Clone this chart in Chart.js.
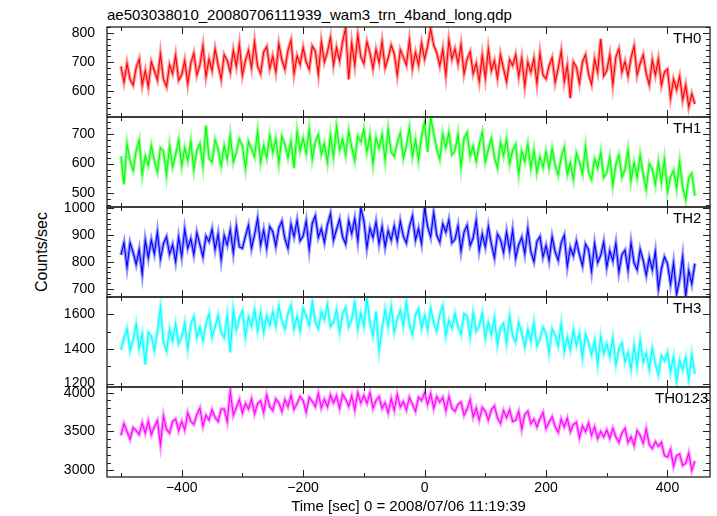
<!DOCTYPE html>
<html>
<head>
<meta charset="utf-8">
<title>ae503038010 wam3 trn 4band long</title>
<script src="https://cdn.jsdelivr.net/npm/chart.js@4.4.0/dist/chart.umd.min.js"></script>
<style>
  html, body { margin: 0; padding: 0; background: #fff; font-family: "Liberation Sans", Arial, sans-serif; }
  #wrap { position: relative; width: 717px; height: 516px; overflow: hidden; }
  #wrap canvas { position: absolute; left: 0; top: 0; }
  #title { position: absolute; left: 107px; top: 7px; font-size: 15px; line-height: 15px; white-space: nowrap; }
  #ytitle { position: absolute; left: 42px; top: 252px; font-size: 16px; white-space: nowrap;
            transform: translate(-50%, -50%) rotate(-90deg); }
</style>
</head>
<body>
<div id="wrap">
  <div id="title">ae503038010_20080706111939_wam3_trn_4band_long.qdp</div>
  <div id="ytitle">Counts/sec</div>
  <canvas id="p0" width="717" height="516"></canvas>
  <canvas id="p1" width="717" height="516"></canvas>
  <canvas id="p2" width="717" height="516"></canvas>
  <canvas id="p3" width="717" height="516"></canvas>
  <canvas id="p4" width="717" height="516"></canvas>
</div>
<script>
// 10 s bins (sec from 2008/07/06 11:19:39); each bin holds two rate samples, 5 s apart
const times = [
  -500,-490,-480,-470,-460,-450,-440,-430,-420,-410,
  -400,-390,-380,-370,-360,-350,-340,-330,-320,-310,
  -300,-290,-280,-270,-260,-250,-240,-230,-220,-210,
  -200,-190,-180,-170,-160,-150,-140,-130,-120,-110,
  -100,-90,-80,-70,-60,-50,-40,-30,-20,-10,
  0,10,20,30,40,50,60,70,80,90,
  100,110,120,130,140,150,160,170,180,190,
  200,210,220,230,240,250,260,270,280,290,
  300,310,320,330,340,350,360,370,380,390,
  400,410,420,430,440
];

// counts/sec, two samples per bin
const th0Rate = [
  685,630,695,640,620,680,710,620,670,615, 700,670,638,728,640,615,690,660,722,637,
  655,705,625,695,730,655,690,755,650,710, 670,745,690,640,725,705,665,740,685,760,
  655,705,740,680,770,685,660,735,753,678, 720,665,762,707,675,740,775,660,722,692,
  750,700,675,755,738,658,770,700,735,785, 690,750,705,770,818,640,765,690,793,718,
  695,770,732,677,743,698,770,680,713,758, 730,655,742,717,690,775,678,733,690,765,
  710,755,815,758,732,687,745,655,775,710, 745,695,760,660,710,735,660,695,633,723,
  645,745,670,705,645,725,677,632,708,688, 725,650,713,618,700,665,712,627,730,655,
  642,687,715,630,678,738,633,688,575,700, 682,627,700,725,658,623,710,665,780,652,
  670,725,623,718,745,665,702,652,715,755, 655,695,725,660,622,707,655,710,620,665,
  675,575,640,605,650,570,620,545,590,555
];
const th1Rate = [
  625,530,665,610,577,642,678,563,625,595, 660,610,573,653,642,562,660,590,630,680,
  593,653,610,675,580,645,667,592,728,618, 605,680,648,593,660,615,695,605,637,682,
  660,585,675,650,623,708,605,660,620,695, 638,683,602,692,665,620,675,585,708,643,
  685,635,715,615,673,698,632,667,605,695, 625,725,647,682,630,710,655,610,693,673,
  715,640,695,600,687,652,698,613,715,640, 625,670,703,618,660,720,625,680,612,692,
  740,640,757,700,650,615,700,655,705,630, 643,698,590,685,705,625,658,608,665,705,
  607,647,685,620,586,671,627,682,600,645, 665,565,642,607,665,585,645,570,622,587,
  640,585,650,595,562,622,655,565,603,548, 635,605,566,656,572,547,615,585,638,553,
  570,620,528,598,629,554,580,645,542,602, 553,628,564,514,600,580,530,605,538,613,
  505,555,577,517,605,520,478,553,567,492
];
const th2Rate = [
  825,870,780,870,835,790,845,755,880,815, 880,830,910,810,867,892,828,863,800,890,
  820,920,850,885,827,907,863,818,895,875, 920,845,903,808,897,862,918,833,930,855,
  850,895,935,850,900,960,863,918,850,930, 912,857,925,950,885,850,938,893,953,878,
  895,950,847,942,970,890,922,872,938,978, 880,920,957,892,866,951,905,960,878,1000,
  952,852,925,890,947,867,930,855,915,880, 932,877,950,895,870,930,970,880,923,868,
  1000,930,892,982,898,873,940,910,955,870, 883,933,840,910,935,860,888,953,842,902,
  855,930,865,815,902,882,835,910,842,917, 813,863,890,830,922,837,800,875,893,818,
  860,805,892,837,805,870,898,783,852,822, 876,826,785,865,845,765,867,797,823,873,
  780,840,803,868,762,827,843,768,870,795, 770,845,805,750,815,770,837,700,773,818,
  792,717,795,680,733,818,672,767,718,793
];
const th3Rate = [
  1395,1463,1518,1390,1453,1543,1402,1485,1310,1495, 1475,1392,1503,1640,1440,1387,1513,1445,1543,1430,
  1467,1550,1402,1545,1588,1467,1525,1450,1545,1605, 1467,1528,1593,1495,1465,1593,1380,1625,1510,1578,
  1620,1470,1585,1532,1628,1507,1610,1497,1590,1537, 1615,1532,1646,1563,1515,1605,1653,1517,1588,1505,
  1635,1590,1535,1670,1555,1517,1616,1570,1657,1529, 1552,1628,1497,1603,1640,1527,1568,1666,1515,1605,
  1532,1695,1550,1475,1617,1390,1515,1628,1530,1643, 1497,1573,1623,1532,1670,1542,1485,1598,1633,1520,
  1593,1510,1635,1552,1502,1600,1650,1477,1565,1520, 1605,1530,1482,1603,1590,1470,1608,1502,1533,1608,
  1462,1553,1482,1580,1425,1523,1548,1435,1588,1475, 1440,1553,1495,1412,1513,1445,1553,1417,1457,1525,
  1490,1377,1515,1478,1417,1545,1385,1468,1395,1508, 1420,1488,1350,1485,1435,1367,1448,1312,1470,1372,
  1430,1355,1463,1312,1398,1435,1325,1378,1282,1418, 1300,1450,1322,1375,1282,1403,1317,1250,1360,1330,
  1380,1267,1353,1210,1333,1280,1350,1222,1368,1255
];
const th0123Rate = [
  3450,3600,3500,3400,3550,3510,3460,3610,3480,3630, 3460,3560,3640,3330,3700,3530,3480,3630,3660,3510,
  3630,3520,3740,3630,3590,3720,3800,3570,3710,3650, 3780,3680,3630,3790,3790,3630,4020,3710,3810,3910,
  3740,3860,3790,3920,3730,3860,3895,3745,3970,3820, 3770,3920,3870,3760,3910,3820,3965,3785,3860,3950,
  3900,3750,3940,3890,3820,3990,3805,3915,3820,3970, 3870,3960,3800,3980,3915,3825,3960,3780,4000,3870,
  3965,3865,4000,3800,3900,3950,3800,3870,3740,3920, 3775,3975,3815,3885,3780,3940,3850,3760,3940,3900,
  4000,3850,3990,3800,3950,3880,3940,3770,3950,3800, 3760,3850,3880,3710,3790,3910,3690,3800,3650,3810,
  3760,3650,3780,3830,3675,3605,3770,3680,3780,3630, 3645,3755,3530,3720,3760,3600,3660,3560,3665,3745,
  3540,3620,3690,3560,3490,3660,3560,3670,3500,3590, 3620,3420,3570,3500,3610,3450,3560,3410,3500,3430,
  3520,3410,3540,3430,3360,3480,3540,3360,3430,3320, 3510,3450,3350,3530,3330,3280,3370,3310,3360,3190,
  3170,3270,3050,3190,3210,3060,3090,3220,3000,3120
];

const panelNames = ['TH0', 'TH1', 'TH2', 'TH3', 'TH0123'];
const yMins = [510, 454, 669, 1180, 2913];
const yMaxs = [821, 757, 1003, 1700, 4074];
const yMajor = [[600, 700, 800], [500, 600, 700], [700, 800, 900, 1000], [1200, 1400, 1600], [3000, 3500, 4000]];
const yMinorStep = [20, 20, 20, 100, 100];
const xLabels = [-400, -200, 0, 200, 400];

const panelTops = [27, 117, 207, 297, 387];
const labelX = [673, 673, 673, 673, 655];
const lineColors = ['#ff0000', '#00ff00', '#0000ff', '#00ffff', '#ff00ff'];
const paleColors = ['rgba(255,0,0,0.42)', 'rgba(0,255,0,0.42)', 'rgba(0,0,255,0.42)', 'rgba(0,255,255,0.42)', 'rgba(255,0,255,0.42)'];
const FONT = '"Liberation Sans", Arial, sans-serif';

Chart.defaults.font.family = FONT;

// qdp style frame with inward ticks and the panel label
const qdpFrame = {
  id: 'qdpFrame',
  afterDraw(chart, args, opts) {
    const ctx = chart.ctx, a = chart.chartArea;
    const x = chart.scales.x, y = chart.scales.y;
    ctx.save();
    ctx.strokeStyle = '#222';
    ctx.lineWidth = 1.3;
    ctx.strokeRect(a.left, a.top, a.right - a.left, a.bottom - a.top);
    ctx.lineWidth = 1;
    ctx.beginPath();
    for (let v = -500; v <= 400; v += 100) {
      const px = Math.round(x.getPixelForValue(v)) + 0.5;
      const len = v % 200 === 0 ? 7 : 4;
      ctx.moveTo(px, a.top); ctx.lineTo(px, a.top + len);
      ctx.moveTo(px, a.bottom); ctx.lineTo(px, a.bottom - len);
    }
    const step = opts.minor;
    for (let v = Math.ceil(y.min / step) * step; v <= y.max; v += step) {
      const py = Math.round(y.getPixelForValue(v)) + 0.5;
      const len = opts.major.includes(v) ? 7 : 4;
      ctx.moveTo(a.left, py); ctx.lineTo(a.left + len, py);
      ctx.moveTo(a.right, py); ctx.lineTo(a.right - len, py);
    }
    ctx.stroke();
    ctx.fillStyle = '#000';
    ctx.font = '15px ' + FONT;
    ctx.textBaseline = 'alphabetic';
    ctx.fillText(opts.label, opts.labelX, a.top + 16);
    ctx.restore();
  }
};

function makePanel(i, rate) {
  const pts = [];
  for (let k = 0; k < times.length; k++) {
    pts.push({ x: times[k], y: rate[2 * k] });
    pts.push({ x: times[k] + 5, y: rate[2 * k + 1] });
  }
  const last = i === 4;
  const xScale = {
    type: 'linear', min: -523, max: 470, display: last,
    grid: { display: false, drawTicks: false }, border: { display: false },
    afterBuildTicks: s => { s.ticks = xLabels.map(v => ({ value: v })); },
    ticks: {
      font: { size: 14 }, color: '#000', padding: 3, maxRotation: 0, autoSkip: false,
      callback: v => v < 0 ? '\u2212' + Math.abs(v) : String(v)
    },
    title: { display: true, text: 'Time [sec] 0 = 2008/07/06 11:19:39', font: { size: 15 }, color: '#000', padding: { top: 0, bottom: 0 } }
  };
  if (last) xScale.afterFit = s => { s.height = 39; };

  return new Chart(document.getElementById('p' + i), {
    type: 'line',
    data: {
      datasets: [
        { data: pts, borderColor: lineColors[i], borderWidth: 1.1, pointRadius: 0, tension: 0, order: 1 },
        { data: pts, borderColor: paleColors[i], borderWidth: 3.5, pointRadius: 0, tension: 0, order: 2 }
      ]
    },
    options: {
      responsive: false,
      animation: false,
      devicePixelRatio: 1,
      events: [],
      layout: { padding: { left: 57, right: 7, top: panelTops[i], bottom: last ? 0 : 516 - panelTops[i] - 90 } },
      plugins: {
        legend: { display: false },
        tooltip: { enabled: false },
        qdpFrame: { major: yMajor[i], minor: yMinorStep[i], label: panelNames[i], labelX: labelX[i] }
      },
      scales: {
        x: xScale,
        y: {
          type: 'linear', min: yMins[i], max: yMaxs[i],
          grid: { display: false, drawTicks: false }, border: { display: false },
          afterBuildTicks: s => { s.ticks = yMajor[i].map(v => ({ value: v })); },
          afterFit: s => { s.width = 50; },
          ticks: { font: { size: 14 }, color: '#000', padding: 12, autoSkip: false, callback: v => String(v) }
        }
      }
    },
    plugins: [qdpFrame]
  });
}

makePanel(0, th0Rate);
makePanel(1, th1Rate);
makePanel(2, th2Rate);
makePanel(3, th3Rate);
makePanel(4, th0123Rate);
</script>
</body>
</html>
